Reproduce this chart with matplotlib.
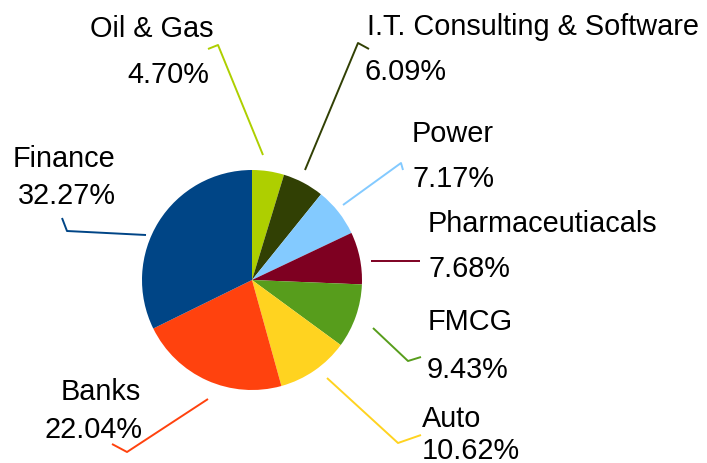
import matplotlib
matplotlib.use("Agg")
import matplotlib.pyplot as plt

# ---- data ----
sectors = ["Oil & Gas", "I.T. Consulting & Software", "Power", "Pharmaceutiacals",
           "FMCG", "Auto", "Banks", "Finance"]
shares = [4.70, 6.09, 7.17, 7.68, 9.43, 10.62, 22.04, 32.27]
colors = ["#aecf00", "#314004", "#83caff", "#7e0021",
          "#579d1c", "#ffd320", "#ff420e", "#004586"]

# ---- layout (pixel coordinates, y measured from top) ----
W, H = 707, 463
center = (252, 280)
radius = 110
# (name_x, name_baseline, pct_x, pct_baseline)
label_pos = [
    (90, 37, 127, 83),
    (367, 35, 365, 80),
    (412, 142, 412, 187),
    (428, 232, 428, 277),
    (428, 330, 427, 378),
    (422, 427, 422, 459),
    (61, 400, 44, 438),
    (13, 167, 18, 204),
]
leaders = [
    [(263, 155), (218, 45), (208, 49)],
    [(305, 170), (358, 43), (369, 49)],
    [(343, 205), (401, 163), (403, 170)],
    [(371, 261), (420, 261)],
    [(373, 328), (408, 361), (421, 357)],
    [(327, 378), (398, 443), (421, 435)],
    [(208, 399), (127, 452), (112, 444)],
    [(146, 235), (67, 231), (62, 218)],
]

plt.rcParams['font.family'] = ['Liberation Sans', 'DejaVu Sans']

fig = plt.figure(figsize=(W / 100, H / 100), dpi=100)
ax = fig.add_axes([0, 0, 1, 1])

ax.pie(shares, colors=colors, startangle=90, counterclock=False,
       center=(center[0], H - center[1]), radius=radius,
       wedgeprops=dict(linewidth=0), frame=True)
ax.set_xlim(0, W)
ax.set_ylim(0, H)
ax.set_aspect("equal")
ax.axis("off")

fs = 20.8
for name, val, col, (nx, ny, px, py), path in zip(sectors, shares, colors, label_pos, leaders):
    ax.text(nx, H - ny, name, fontsize=fs, ha="left", va="baseline", color="black")
    ax.text(px, H - py, f"{val:.2f}%", fontsize=fs, ha="left", va="baseline", color="black")
    xs = [p[0] for p in path]
    ys = [H - p[1] for p in path]
    ax.plot(xs, ys, color=col, lw=1.4, solid_capstyle="butt")

fig.savefig("out.png", dpi=100)
